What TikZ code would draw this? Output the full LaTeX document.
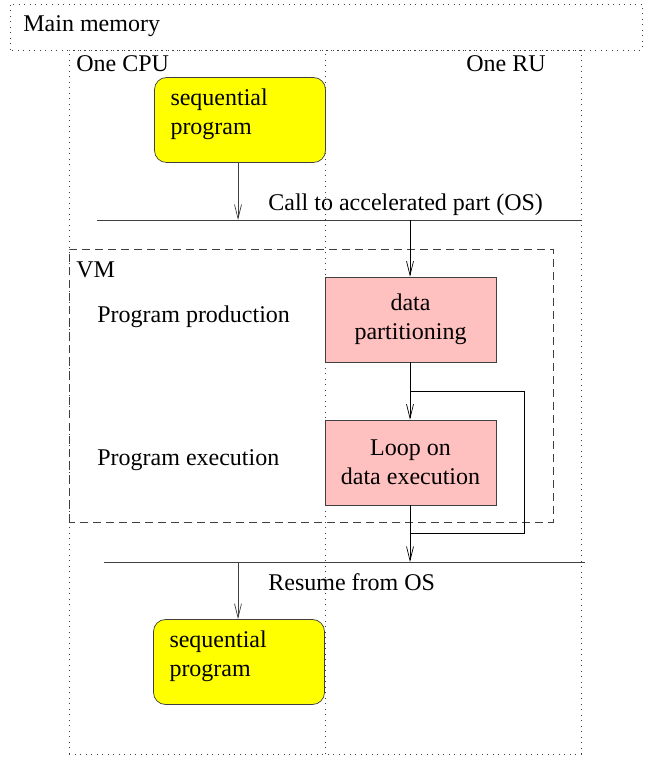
\documentclass[tikz,border=0pt]{standalone}
\usepackage{fontspec}
\setmainfont{Liberation Serif}
\usepackage{tikz}
\usetikzlibrary{arrows.meta,shapes}
\definecolor{seqyellow}{rgb}{1,1,0}
\definecolor{vmpink}{rgb}{1,0.753,0.753}

\begin{document}
\begin{tikzpicture}[>={Straight Barb[length=14bp,width=7bp]}, line width=0.7bp,
  every node/.style={font=\fontsize{24bp}{28.5bp}\selectfont},
  dots/.style={black!75,dash pattern=on 1bp off 4.5bp},
  seqbox/.style={draw=black!75,fill=seqyellow,rounded corners=12bp,minimum width=171bp,minimum height=85bp,
    text width=139bp,inner xsep=16bp,align=left,text depth=45bp},
  vmbox/.style={draw=black!75,fill=vmpink,minimum width=171bp,minimum height=85bp,align=center},
  lbl/.style={anchor=base west,inner sep=0pt}]
\useasboundingbox (0bp,0bp) rectangle (645bp,758bp);
%%
\draw [dots] (10bp,708bp) rectangle (642bp,754bp);
\node (mem) at (23bp,726bp) [lbl] {Main memory};
\draw [dots] (69bp,4bp) rectangle (581bp,708bp);
\draw [dots] (325bp,4bp) -- (325bp,708bp);
\node (cpu) at (76bp,686bp) [lbl] {One CPU};
\node (ru) at (546bp,686bp) [anchor=base east,inner sep=0pt] {One RU};
%
\draw [black!75,dash pattern=on 8bp off 5bp] (69bp,236bp) rectangle (553bp,509bp);
\node (vm) at (76bp,480bp) [lbl] {VM};
\node (prod) at (97bp,435bp) [lbl] {Program production};
\node (exec) at (97bp,292bp) [lbl] {Program execution};
%
\node (seqa) at (240bp,638bp) [seqbox] {sequential\\program};
\node (part) at (410.5bp,438.5bp) [vmbox] {data\\partitioning};
\node (loop) at (410.5bp,295.5bp) [vmbox] {Loop on\\data execution};
\node (seqb) at (239bp,96bp) [seqbox] {sequential\\program};
%
\coordinate (calla) at (97bp,538bp);
\coordinate (callb) at (581bp,538bp);
\coordinate (resa) at (104bp,196bp);
\coordinate (resb) at (585bp,196bp);
\coordinate (split) at (410bp,367bp);
\coordinate (join) at (410bp,225bp);
\draw [black!75] (calla) -- (callb);
\draw [black!75] (resa) -- (resb);
\node (call) at (268bp,547bp) [lbl] {Call to accelerated part (OS)};
\node (resume) at (268bp,167bp) [lbl] {Resume from OS};
%
\draw [->,black!75] (seqa.south -| 238bp,0) -- (238bp,538bp);
\draw [->] (410bp,538bp) -- (part.north -| 410bp,0);
\draw [black] (part.south -| 410bp,0) -- (split);
\draw [->] (split) -- (loop.north -| 410bp,0);
\draw [black] (split) -- (524bp,367bp) -- (524bp,225bp) -- (join);
\draw [->] (loop.south -| 410bp,0) -- (410bp,196bp);
\draw [->,black!75] (238bp,196bp) -- (seqb.north -| 238bp,0);
%
\end{tikzpicture}
\end{document}
